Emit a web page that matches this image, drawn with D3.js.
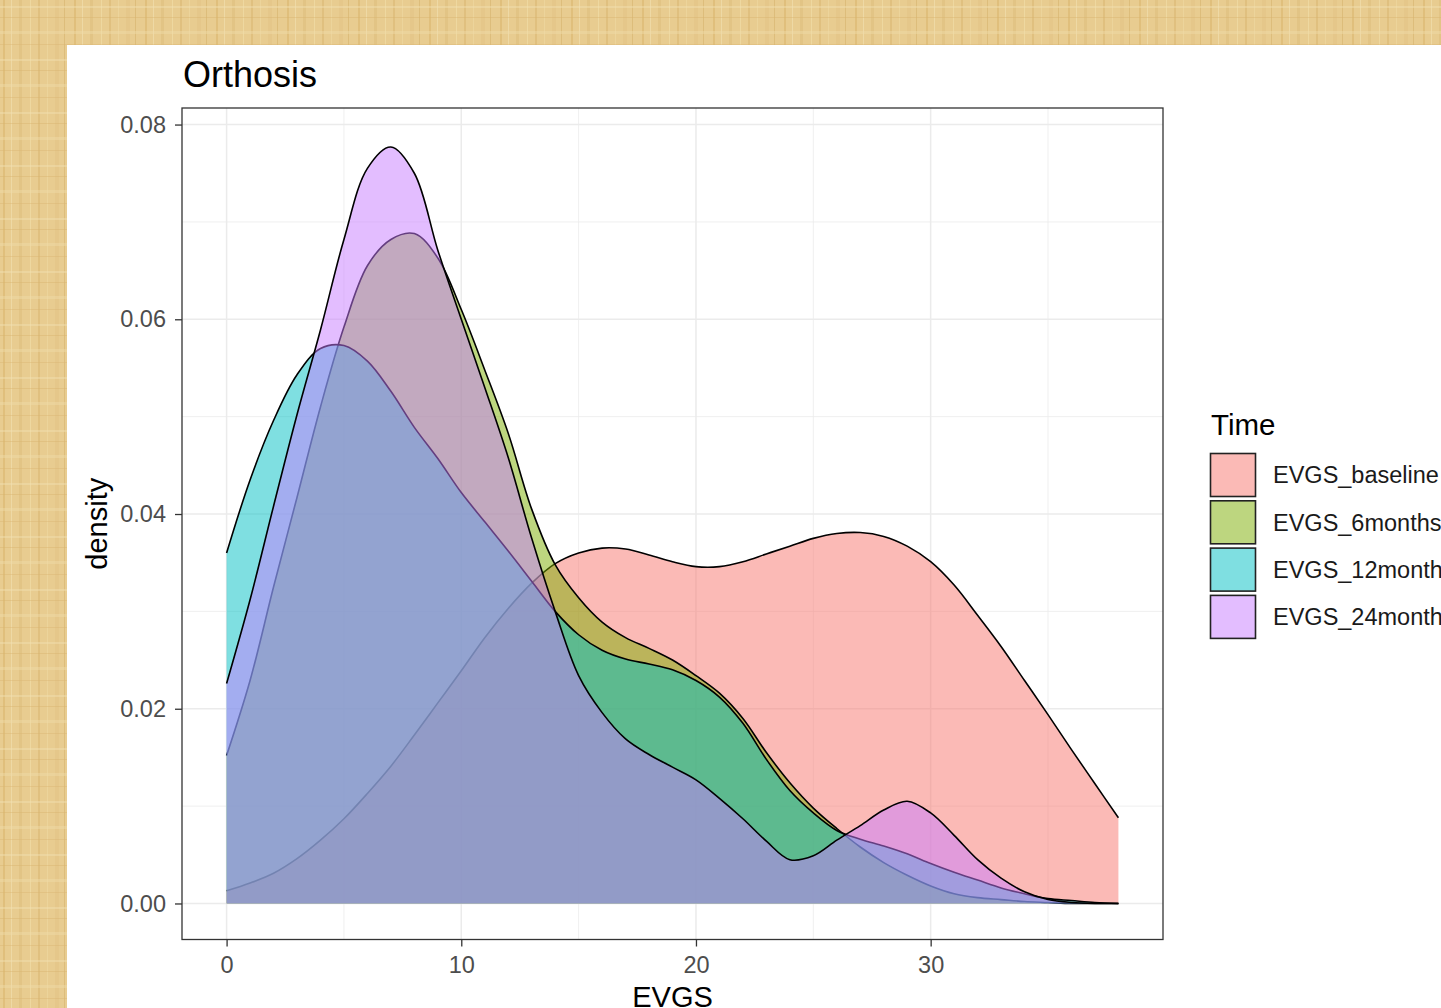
<!DOCTYPE html>
<html>
<head>
<meta charset="utf-8">
<script src="https://d3js.org/d3.v7.min.js"></script>
<style>
    body {
        margin: 0;
        overflow: hidden;
    }

    text {
        font-family: "Liberation Sans", Arial, sans-serif;
    }

    .domain {
        display: none;
    }

    .tick line {
        stroke: #333333;
        stroke-width: 1.3px;
    }

    .tick text {
        fill: #4d4d4d;
        font-size: 23.5px;
    }
</style>
</head>

<body>
<script>
    // EVGS grid the densities were read on
    const evgs = [0, 1, 2, 3, 4, 5, 6, 7, 8, 9, 10, 11, 12, 13, 14, 15, 16, 17, 18, 19,
        20, 21, 22, 23, 24, 25, 26, 27, 28, 29, 30, 31, 32, 33, 34, 35, 36, 37, 38];

    const baseline = [0.0013, 0.0021, 0.0031, 0.0046, 0.0065, 0.0087, 0.0113, 0.0141, 0.0173, 0.0206,
        0.0239, 0.0273, 0.0303, 0.0329, 0.0349, 0.0360, 0.0365, 0.0364, 0.0358, 0.0351,
        0.0346, 0.0346, 0.0351, 0.0359, 0.0367, 0.0375, 0.0380, 0.0381, 0.0377, 0.0367,
        0.0351, 0.0327, 0.0296, 0.0264, 0.0229, 0.0194, 0.0158, 0.0123, 0.0088];

    const months6 = [0.0152, 0.0229, 0.0325, 0.0417, 0.0510, 0.0592, 0.0655, 0.0682, 0.0688, 0.0663,
        0.0610, 0.0548, 0.0483, 0.0405, 0.0348, 0.0314, 0.0289, 0.0273, 0.0262, 0.0250,
        0.0234, 0.0216, 0.0190, 0.0155, 0.0124, 0.0098, 0.0077, 0.0058, 0.0042, 0.0029,
        0.0018, 0.0010, 0.0006, 0.0004, 0.0002, 0.0001, 0, 0, 0];

    const months12 = [0.0360, 0.0435, 0.0496, 0.0543, 0.0570, 0.0573, 0.0557, 0.0526, 0.0489, 0.0457,
        0.0422, 0.0392, 0.0362, 0.0331, 0.0300, 0.0276, 0.0260, 0.0251, 0.0246, 0.0240,
        0.0229, 0.0212, 0.0185, 0.0148, 0.0116, 0.0093, 0.0075, 0.0066, 0.0059, 0.0051,
        0.0041, 0.0032, 0.0024, 0.0016, 0.0010, 0.0005, 0.0003, 0.0001, 0];

    const months24 = [0.0226, 0.0312, 0.0408, 0.0502, 0.0589, 0.0682, 0.0755, 0.0777, 0.0750, 0.0671,
        0.0600, 0.0530, 0.0458, 0.0375, 0.0300, 0.0234, 0.0196, 0.0169, 0.0153, 0.0140,
        0.0127, 0.0108, 0.0087, 0.0064, 0.0045, 0.0049, 0.0065, 0.0080, 0.0096, 0.0105,
        0.0093, 0.0070, 0.0045, 0.0026, 0.0012, 0.0004, 0.0001, 0, 0];

    const groups = ["EVGS_baseline", "EVGS_6months", "EVGS_12months", "EVGS_24months"];
    const colors = ["#F8766D", "#7CAE00", "#00BFC4", "#C77CFF"];
    const xTicks = [0, 10, 20, 30];
    const xMinor = [5, 15, 25, 35];
    const yTicks = [0, 0.02, 0.04, 0.06, 0.08];
    const yMinor = [0.01, 0.03, 0.05, 0.07];

    const series = [baseline, months6, months12, months24].map((vals, i) => ({
        name: groups[i],
        color: colors[i],
        values: evgs.map((e, j) => ({ x: e, y: vals[j] }))
    }));

    const width = 1441,
        height = 1008;
    const panel = { left: 182, right: 1163, top: 108, bottom: 939.5 };

    const svg = d3.select("body").append("svg")
        .attr("width", width)
        .attr("height", height);

    // parchment backdrop
    const pat = svg.append("defs").append("pattern")
        .attr("id", "paper")
        .attr("patternUnits", "userSpaceOnUse")
        .attr("width", 71).attr("height", 53);
    pat.append("rect").attr("width", 71).attr("height", 53).attr("fill", "#e8cc90");
    [[3, 2, "#d8b46c", 0.55], [11, 1, "#f2dfae", 0.7], [19, 3, "#dcbb79", 0.45],
        [30, 1, "#f0dba4", 0.8], [38, 2, "#d4af66", 0.4], [47, 1, "#efd9a2", 0.6],
        [55, 4, "#e1c283", 0.5], [64, 1, "#d1ab62", 0.45]]
    .forEach(s => pat.append("rect").attr("x", s[0]).attr("width", s[1]).attr("height", 53)
        .attr("fill", s[2]).attr("opacity", s[3]));
    [[6, 2, "#f3e1b2", 0.45], [17, 1, "#d6b26b", 0.4], [31, 3, "#f1dda8", 0.45], [44, 1, "#d9b570", 0.4]]
    .forEach(s => pat.append("rect").attr("y", s[0]).attr("height", s[1]).attr("width", 71)
        .attr("fill", s[2]).attr("opacity", s[3]));
    svg.append("rect").attr("width", width).attr("height", height).attr("fill", "url(#paper)");
    svg.append("rect").attr("x", 67).attr("y", 45)
        .attr("width", width - 67).attr("height", height - 45).attr("fill", "white");

    const x = d3.scaleLinear().domain([-1.9, 39.9]).range([panel.left, panel.right]);
    const y = d3.scaleLinear().domain([-0.0037, 0.0817]).range([panel.bottom, panel.top]);

    // grid
    const grid = svg.append("g");
    grid.selectAll(".xminor").data(xMinor).join("line")
        .attr("x1", d => x(d)).attr("x2", d => x(d))
        .attr("y1", panel.top).attr("y2", panel.bottom)
        .attr("stroke", "#ebebeb").attr("stroke-width", 0.8);
    grid.selectAll(".yminor").data(yMinor).join("line")
        .attr("y1", d => y(d)).attr("y2", d => y(d))
        .attr("x1", panel.left).attr("x2", panel.right)
        .attr("stroke", "#ebebeb").attr("stroke-width", 0.8);
    grid.selectAll(".xmajor").data(xTicks).join("line")
        .attr("x1", d => x(d)).attr("x2", d => x(d))
        .attr("y1", panel.top).attr("y2", panel.bottom)
        .attr("stroke", "#ebebeb").attr("stroke-width", 1.5);
    grid.selectAll(".ymajor").data(yTicks).join("line")
        .attr("y1", d => y(d)).attr("y2", d => y(d))
        .attr("x1", panel.left).attr("x2", panel.right)
        .attr("stroke", "#ebebeb").attr("stroke-width", 1.5);

    // densities, each fill followed by its outline, in group order
    const curve = d3.curveCatmullRom.alpha(0.5);
    const area = d3.area()
        .x(d => x(d.x))
        .y0(y(0))
        .y1(d => y(d.y))
        .curve(curve);
    const line = d3.line()
        .x(d => x(d.x))
        .y(d => y(d.y))
        .curve(curve);

    series.forEach(s => {
        svg.append("path")
            .attr("d", area(s.values))
            .attr("fill", s.color)
            .attr("fill-opacity", 0.5);
        svg.append("path")
            .attr("d", line(s.values))
            .attr("fill", "none")
            .attr("stroke", "black")
            .attr("stroke-width", 1.6);
    });

    svg.append("rect")
        .attr("x", panel.left).attr("y", panel.top)
        .attr("width", panel.right - panel.left)
        .attr("height", panel.bottom - panel.top)
        .attr("fill", "none")
        .attr("stroke", "#333333")
        .attr("stroke-width", 1.3);

    svg.append("g")
        .attr("transform", `translate(0,${panel.bottom})`)
        .call(d3.axisBottom(x).tickValues(xTicks).tickSize(7).tickPadding(10));
    svg.append("g")
        .attr("transform", `translate(${panel.left},0)`)
        .call(d3.axisLeft(y).tickValues(yTicks).tickFormat(d3.format(".2f")).tickSize(7).tickPadding(9));

    svg.append("text")
        .attr("x", (panel.left + panel.right) / 2)
        .attr("y", 1007)
        .attr("text-anchor", "middle")
        .attr("font-size", 29)
        .text("EVGS");
    svg.append("text")
        .attr("transform", `translate(107,${(panel.top + panel.bottom) / 2})rotate(-90)`)
        .attr("text-anchor", "middle")
        .attr("font-size", 29)
        .text("density");
    svg.append("text")
        .attr("x", 183)
        .attr("y", 87)
        .attr("font-size", 36)
        .text("Orthosis");

    // legend
    const legend = svg.append("g").attr("transform", "translate(1210,0)");
    legend.append("text")
        .attr("x", 1)
        .attr("y", 435)
        .attr("font-size", 29.5)
        .text("Time");
    const keys = legend.selectAll(".key").data(series).join("g")
        .attr("transform", (d, i) => `translate(0,${453 + i * 47.3})`);
    keys.append("rect")
        .attr("x", 0.5).attr("y", 0.5)
        .attr("width", 45).attr("height", 43)
        .attr("fill", d => d.color)
        .attr("fill-opacity", 0.5)
        .attr("stroke", "#222")
        .attr("stroke-width", 1.6);
    keys.append("text")
        .attr("x", 63)
        .attr("y", 22)
        .attr("dy", "0.35em")
        .attr("font-size", 23.5)
        .attr("fill", "#1a1a1a")
        .text(d => d.name);
</script>
</body>

</html>
